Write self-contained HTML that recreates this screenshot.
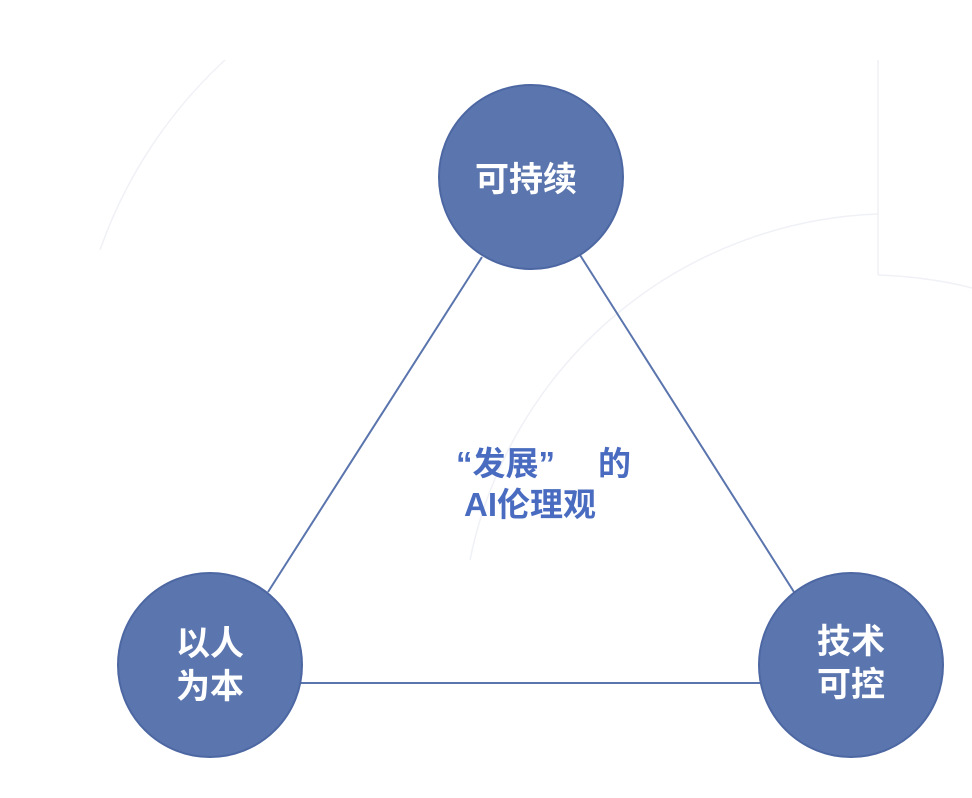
<!DOCTYPE html>
<html><head><meta charset="utf-8"><style>
html,body{margin:0;padding:0;background:#fff;}
svg{display:block;}
</style></head><body>
<svg width="972" height="798" viewBox="0 0 972 798" xmlns="http://www.w3.org/2000/svg">
<g fill="none" stroke="#f0f1f6" stroke-width="1.5">
<path d="M225 60 A470 470 0 0 0 100 250"/>
<path d="M878 214 A432 432 0 0 0 470 560"/>
<path d="M878 60 L878 275"/>
<path d="M878 275 Q930 277 972 288"/>
</g>
<g stroke="#5a74ad" stroke-width="2" fill="none">
<line x1="482" y1="257" x2="268" y2="592"/>
<line x1="580" y1="255" x2="794" y2="592"/>
<line x1="300" y1="683" x2="760" y2="683"/>
</g>
<g fill="#5b76ae" stroke="#4d67a3" stroke-width="2">
<circle cx="531" cy="177" r="92"/>
<circle cx="210" cy="665" r="92"/>
<circle cx="851" cy="665" r="92"/>
</g>
<g font-family="Liberation Sans, Noto Sans CJK SC, sans-serif" font-weight="bold" fill="#fff" font-size="34" text-anchor="middle">
<text x="526" y="191">可持续</text>
<text x="210" y="655">以人</text>
<text x="210" y="698">为本</text>
<text x="851" y="653">技术</text>
<text x="851" y="696">可控</text>
</g>
<g font-family="Liberation Sans, Noto Sans CJK SC, sans-serif" font-weight="bold" fill="#4a6cc0" font-size="33">
<text x="456" y="475">“发展”</text>
<text x="598" y="475">的</text>
<text x="464" y="516">AI伦理观</text>
</g>
</svg>
</body></html>
